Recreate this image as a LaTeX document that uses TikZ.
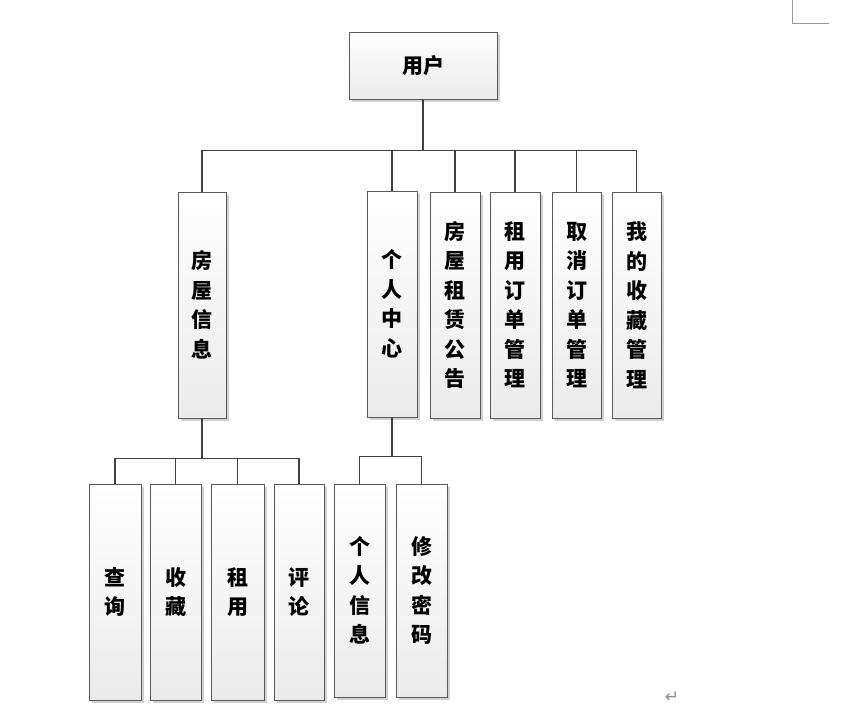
\documentclass[tikz,border=0pt]{standalone}
\usepackage{fontspec}
\newfontfamily\cjk{Noto Sans CJK SC}
\newfontfamily\symfont{DejaVu Sans}
\usetikzlibrary{shadows}
\definecolor{Edge}{HTML}{5A5A5A}
\definecolor{Wire}{HTML}{404040}
\definecolor{Shade}{HTML}{EBEBEB}
\begin{document}
\begin{tikzpicture}[x=1pt, y=-1pt,
  box/.style={draw=Edge, line width=0.9pt, top color=white, bottom color=Shade,
              inner sep=0pt, align=center,
              font=\cjk\bfseries\fontsize{21}{29.5}\selectfont,
              drop shadow={shadow xshift=2.5pt, shadow yshift=-2.5pt,
                           fill=black!18, opacity=1}},
  tall/.style={box, minimum height=226pt},
  low/.style={box, minimum height=216pt},
  conn/.style={draw=Wire, line width=1.8pt},
]
\useasboundingbox (0,0) rectangle (855,712);
% root
\node[box, minimum width=148pt, minimum height=67pt] (user) at (423,65.5) {用户};
% first level
\node[tall, minimum width=48pt] (info)   at (202,305)   {房\\屋\\信\\息};
\node[tall, minimum width=50pt] (center) at (392,304)   {个\\人\\中\\心};
\node[tall, minimum width=50pt] (notice) at (455,305)   {房\\屋\\租\\赁\\公\\告};
\node[tall, minimum width=50pt] (rent)   at (515,305)   {租\\用\\订\\单\\管\\理};
\node[tall, minimum width=49pt] (cancel) at (576.5,305) {取\\消\\订\\单\\管\\理};
\node[tall, minimum width=49pt] (fav)    at (636.5,305) {我\\的\\收\\藏\\管\\理};
% second level
\node[low, minimum width=52pt] (query)   at (115,592)   {查\\询};
\node[low, minimum width=51pt] (collect) at (175.5,592) {收\\藏};
\node[low, minimum width=53pt] (lease)   at (237.5,592) {租\\用};
\node[low, minimum width=50pt] (comment) at (299,592)   {评\\论};
\node[box, minimum width=51pt, minimum height=213pt] (profile) at (359.5,590.5) {个\\人\\信\\息};
\node[box, minimum width=51pt, minimum height=213pt] (pwd)     at (421.5,590.5) {修\\改\\密\\码};
% connectors
\foreach \n in {info,center,notice,rent,cancel,fav}
  \draw[conn] (user.south) -- ++(0,51) -| (\n.north);
\foreach \n in {query,collect,lease,comment}
  \draw[conn] (info.south) -- ++(0,40) -| (\n.north);
\foreach \n in {profile,pwd}
  \draw[conn] (center.south) -- ++(0,39) -| (\n.north);
% page marks
\draw[black!40, line width=0.9pt] (792,0) -- (792,23) -- (829,23);
\node[text=black!45, font=\symfont\fontsize{17}{17}\selectfont] (ret) at (672,697) {↵};
\end{tikzpicture}
\end{document}
